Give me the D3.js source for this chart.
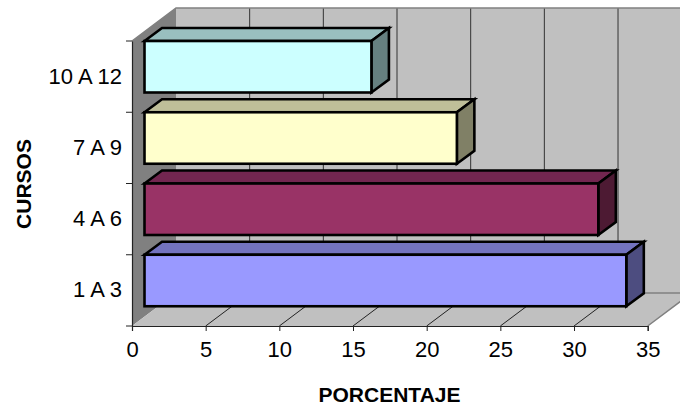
<!DOCTYPE html>
<html><head><meta charset="utf-8">
<script src="https://cdn.jsdelivr.net/npm/d3@7"></script>
<style>html,body{margin:0;padding:0;background:#fff;overflow:hidden}svg{display:block}
text{font-family:"Liberation Sans",Arial,sans-serif;fill:#000}</style></head><body>
<script>
const categories = ["1 A 3","4 A 6","7 A 9","10 A 12"];
const values = [32.7,30.8,21.2,15.4];
const faceColors = ["#9999ff","#993366","#ffffcc","#ccffff"];
const topColors = ["#7373bf","#732650","#bfbf99","#99bfbf"];
const sideColors = ["#4d4d80","#4d1a33","#808066","#668080"];
const xTicks = [0,5,10,15,20,25,30,35];

const W=680,H=405;
const svg=d3.select("body").append("svg").attr("width",W).attr("height",H);
const x=d3.scaleLinear().domain([0,35]).range([132,647.7]);
const y=d3.scaleBand().domain(categories).range([326,41]);
const wallDx=44, wallDy=-33;
const frontDx=12.5;
const barDx=17.5, barDy=-13;
const barH=51.5;
const x0=x(0), x35=x(35), yB=y.range()[0], yT=y.range()[1];
const pts=a=>a.map(p=>p.join(",")).join(" ");

// walls and floor
svg.append("polygon").attr("points",pts([[x0+wallDx,yT+wallDy],[x35+wallDx,yT+wallDy],[x35+wallDx,yB+wallDy],[x0+wallDx,yB+wallDy]])).attr("fill","#c0c0c0");
svg.append("polygon").attr("points",pts([[x0,yT],[x0+wallDx,yT+wallDy],[x0+wallDx,yB+wallDy],[x0,yB]])).attr("fill","#808080");
svg.append("polygon").attr("points",pts([[x0,yB],[x35,yB],[x35+wallDx,yB+wallDy],[x0+wallDx,yB+wallDy]])).attr("fill","#c0c0c0");
// gridlines
svg.selectAll(".g").data(xTicks.slice(1,-1)).join("line").attr("x1",d=>x(d)+wallDx).attr("x2",d=>x(d)+wallDx)
  .attr("y1",yT+wallDy).attr("y2",yB+wallDy).attr("stroke","#333").attr("stroke-width",1);
svg.selectAll(".f").data(xTicks.slice(1,-1)).join("line").attr("x1",d=>x(d)).attr("x2",d=>x(d)+wallDx)
  .attr("y1",yB).attr("y2",yB+wallDy).attr("stroke","#222").attr("stroke-width",1);
// wall edges
svg.append("path").attr("fill","none").attr("stroke","#808080").attr("stroke-width",1.5)
  .attr("d",`M${x0},${yT}L${x0+wallDx},${yT+wallDy}L${x35+wallDx},${yT+wallDy}M${x0+wallDx},${yB+wallDy}L${x35+wallDx},${yB+wallDy}M${x35},${yB}L${x35+wallDx},${yB+wallDy}`);

// bars, back to front
const bars=categories.map((c,i)=>({c,v:values[i],i})).reverse();
const g=svg.selectAll(".bar").data(bars).join("g");
const fx=frontDx+x0, ft=d=>y(d.c), fr=d=>x(d.v)+frontDx;
g.append("polygon").attr("points",d=>pts([[fx,ft(d)],[fx+barDx,ft(d)+barDy],[fr(d)+barDx,ft(d)+barDy],[fr(d),ft(d)]]))
  .attr("fill",d=>topColors[d.i]);
g.append("polygon").attr("points",d=>pts([[fr(d),ft(d)],[fr(d)+barDx,ft(d)+barDy],[fr(d)+barDx,ft(d)+barDy+barH],[fr(d),ft(d)+barH]]))
  .attr("fill",d=>sideColors[d.i]);
g.append("rect").attr("x",fx).attr("y",ft).attr("width",d=>fr(d)-fx).attr("height",barH).attr("fill",d=>faceColors[d.i]);
g.selectAll("polygon,rect").attr("stroke","#000").attr("stroke-width",2.6).attr("stroke-linejoin","miter");

// axes
const ax=svg.append("g").attr("transform",`translate(0,${yB})`).call(d3.axisBottom(x).tickValues(xTicks).tickSize(5).tickPadding(10.5));
const ay=svg.append("g").attr("transform",`translate(${x0},0)`).call(d3.axisLeft(y).tickSize(0).tickPadding(10));
ay.selectAll(".tick").append("line").attr("x1",-6).attr("x2",0).attr("y1",y.bandwidth()/2).attr("y2",y.bandwidth()/2).attr("stroke","#000");
ay.append("line").attr("x1",-6).attr("x2",0).attr("y1",yT).attr("y2",yT).attr("stroke","#000");
for(const a of [ax,ay]){a.selectAll("text").attr("font-size",22).style("font-family",'"Liberation Sans",Arial,sans-serif').attr("fill","#000");
 a.selectAll(".domain").attr("stroke","#222").attr("stroke-width",1.2);a.selectAll("line").attr("stroke","#222");}

svg.append("text").attr("x",389.5).attr("y",402).attr("text-anchor","middle").attr("font-size",21).attr("font-weight","bold").text("PORCENTAJE");
svg.append("text").attr("transform","translate(30.5,184) rotate(-90)").attr("text-anchor","middle").attr("font-size",21).attr("font-weight","bold").text("CURSOS");
</script></body></html>
